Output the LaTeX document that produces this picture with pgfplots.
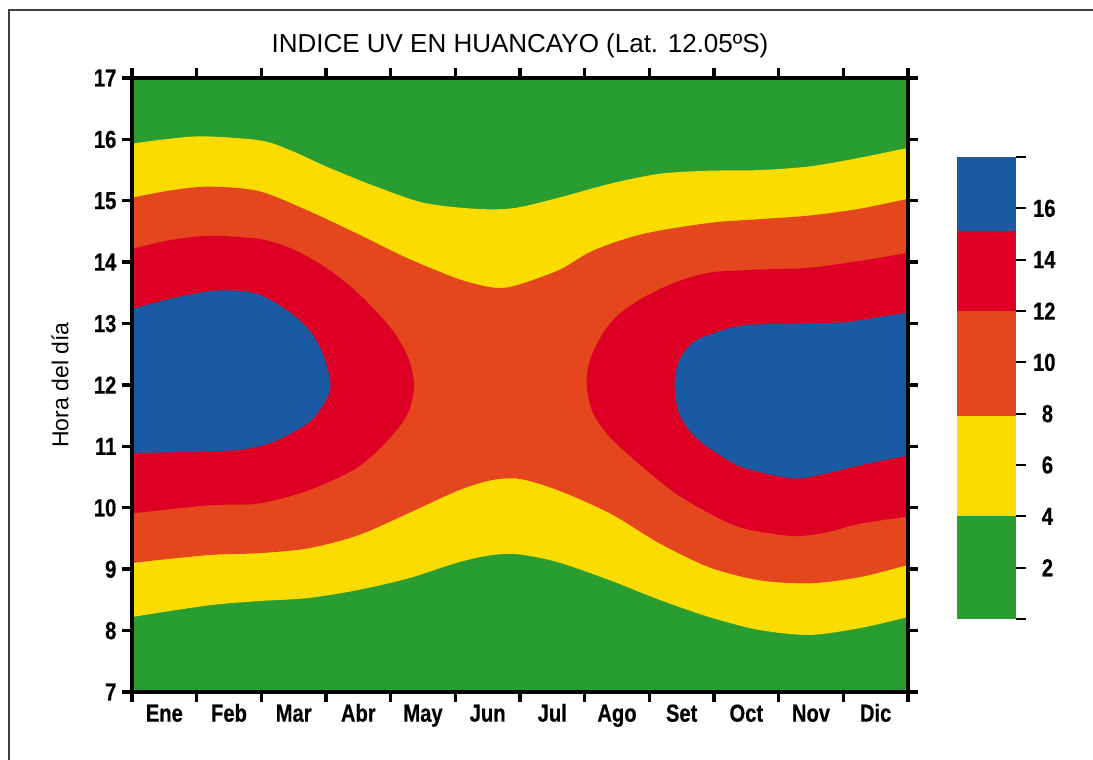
\documentclass[border=0pt]{standalone}
\usepackage{fontspec}
\setmainfont{Liberation Sans}
\newfontfamily\tickfont[FakeStretch=0.82, BoldFeatures={FakeBold=0.5}]{Liberation Sans}
\usepackage{pgfplots}
\pgfplotsset{compat=1.18}
\definecolor{cgreen}{RGB}{42,157,50}
\definecolor{cyellow}{RGB}{250,220,0}
\definecolor{corange}{RGB}{228,70,30}
\definecolor{cred}{RGB}{222,0,36}
\definecolor{cblue}{RGB}{25,90,162}
\begin{document}
\begin{tikzpicture}
\useasboundingbox (-66pt,-34pt) rectangle (480.5pt,346pt);
\draw[line width=0.8pt, black!75] (-61.5pt,-45pt) -- (-61.5pt,341pt) -- (495pt,341pt);
\begin{axis}[
  at={(0pt,0pt)}, anchor=south west, scale only axis,
  width=388pt, height=307pt,
  xmin=0, xmax=12, ymin=7, ymax=17,
  axis on top,
  axis background/.style={fill=cgreen},
  xtick={0.5,1.5,...,11.5},
  xticklabels={Ene,Feb,Mar,Abr,May,Jun,Jul,Ago,Set,Oct,Nov,Dic},
  minor xtick={0,1,...,12},
  major x tick style={draw=none},
  ytick={7,8,...,17},
  tick align=outside,
  major tick length=4.8pt, minor tick length=4.8pt,
  tick style={line width=1.7pt, black},
  axis line style={line width=2pt},
  /pgf/number format/assume math mode=true,
  ticklabel style={font=\tickfont\bfseries\fontsize{12.3}{12.3}\selectfont},
  yticklabel style={xshift=0.5pt},
  xticklabel style={text height=8.5pt, text depth=2.5pt, yshift=2pt},
  title={INDICE UV EN HUANCAYO (Lat. 12.05ºS)},
  title style={font=\fontsize{13}{13}\selectfont, at={(axis description cs:0.5,1)}, anchor=center, yshift=10pt},
  ylabel={Hora del día},
  ylabel style={font=\fontsize{11.5}{11.5}\selectfont, at={(axis description cs:-0.0928,0.5)}, anchor=center},
]
% UV >= 4 (yellow)
\addplot[fill=cyellow, draw=none, smooth] coordinates {
(-1,15.75) (-0.5,15.85) (0,15.93) (0.5,16.0) (1.1,16.05) (2.0,15.98) (2.5,15.8) (3.0,15.56) (3.75,15.24) (4.5,14.97) (5.3,14.87) (5.9,14.88) (6.6,15.05) (7.4,15.28) (8.16,15.44) (8.93,15.49) (9.7,15.50) (10.48,15.56) (11.25,15.70) (12,15.86) (12.5,15.95) (13,16.05)
(13,8.5) (12.5,8.35) (12,8.22) (11.25,8.04) (10.48,7.93) (9.7,8.01) (8.93,8.22) (8.16,8.50) (7.39,8.82) (6.6,9.11) (6.0,9.24) (5.56,9.23) (5.04,9.11) (4.27,8.85) (3.49,8.66) (2.72,8.53) (1.95,8.48) (1.18,8.41) (0,8.22) (-0.5,8.1) (-1,8.0)
};
% UV >= 8 (orange)
\addplot[fill=corange, draw=none, smooth] coordinates {
(-1,14.85) (-0.5,14.95) (0,15.05) (0.6,15.17) (1.18,15.23) (1.95,15.16) (2.72,14.84) (3.49,14.46) (4.27,14.06) (5.04,13.73) (5.56,13.59) (5.9,13.61) (6.6,13.87) (7.13,14.19) (7.9,14.46) (8.93,14.64) (9.7,14.70) (10.48,14.76) (11.25,14.87) (12,15.03) (12.5,15.12) (13,15.2)
(13,9.35) (12.5,9.2) (12,9.07) (11.25,8.87) (10.48,8.77) (9.7,8.82) (8.93,9.03) (8.16,9.42) (7.39,9.91) (6.6,10.28) (6.0,10.47) (5.56,10.45) (5.04,10.28) (4.27,9.91) (3.49,9.55) (2.72,9.34) (1.95,9.26) (1.18,9.23) (0,9.10) (-0.5,9.0) (-1,8.9)
};
% UV >= 12 (red), left lobe
\addplot[fill=cred, draw=none, smooth] coordinates {
(-1,14.0) (-0.5,14.1) (0,14.22) (0.6,14.36) (1.18,14.43) (1.95,14.38) (2.47,14.22) (3.0,13.91) (3.49,13.5) (4.0,12.93) (4.27,12.45) (4.36,12.0) (4.27,11.55) (4.0,11.15) (3.49,10.66) (2.72,10.28) (1.95,10.07) (1.18,10.04) (0,9.91) (-0.5,9.85) (-1,9.8)
};
% UV >= 12 (red), right lobe
\addplot[fill=cred, draw=none, smooth] coordinates {
(13,14.3) (12.5,14.22) (12,14.15) (11.25,14.02) (10.48,13.91) (9.7,13.88) (8.93,13.83) (8.4,13.67) (7.9,13.42) (7.54,13.16) (7.28,12.84) (7.08,12.4) (7.03,12.0) (7.13,11.54) (7.39,11.15) (7.9,10.66) (8.4,10.24) (8.93,9.91) (9.44,9.67) (10.22,9.54) (10.74,9.6) (11.25,9.74) (12,9.86) (12.5,9.95) (13,10.05)
};
% UV >= 15 (blue), left lobe
\addplot[fill=cblue, draw=none, smooth] coordinates {
(-1,13.0) (-0.5,13.1) (0,13.24) (0.66,13.42) (1.33,13.54) (1.95,13.48) (2.47,13.16) (2.78,12.84) (2.97,12.45) (3.07,12.0) (2.97,11.7) (2.72,11.38) (2.18,11.07) (1.7,10.95) (1.18,10.92) (0,10.89) (-0.5,10.88) (-1,10.87)
};
% UV >= 15 (blue), right lobe
\addplot[fill=cblue, draw=none, smooth] coordinates {
(13,13.3) (12.5,13.25) (12,13.18) (11.51,13.1) (11.0,13.02) (10.22,13.0) (9.44,12.97) (8.93,12.82) (8.66,12.68) (8.46,12.4) (8.39,12.0) (8.46,11.54) (8.66,11.21) (8.93,10.97) (9.44,10.66) (10.22,10.48) (10.74,10.56) (11.25,10.69) (12,10.85) (12.5,10.92) (13,11.0)
};
\end{axis}
% colour bar
\begin{axis}[
  at={(412.5pt,36.5pt)}, anchor=south west, scale only axis,
  width=29.5pt, height=231pt,
  xmin=0, xmax=1, ymin=0, ymax=18,
  axis x line=none, axis y line*=right,
  y axis line style={draw=none},
  ytick={0,2,...,18},
  yticklabels={,2,4,6,8,10,12,14,16,},
  tick align=outside, major tick length=5pt,
  tick style={line width=1pt, black},
  yticklabel style={font=\tickfont\bfseries\fontsize{12.3}{12.3}\selectfont, text width=10pt, align=right},
]
\addplot[fill=cgreen, draw=none] coordinates {(0,0) (1,0) (1,4) (0,4)};
\addplot[fill=cyellow, draw=none] coordinates {(0,4) (1,4) (1,7.9) (0,7.9)};
\addplot[fill=corange, draw=none] coordinates {(0,7.9) (1,7.9) (1,12) (0,12)};
\addplot[fill=cred, draw=none] coordinates {(0,12) (1,12) (1,15.1) (0,15.1)};
\addplot[fill=cblue, draw=none] coordinates {(0,15.1) (1,15.1) (1,18) (0,18)};
\end{axis}
\end{tikzpicture}
\end{document}
